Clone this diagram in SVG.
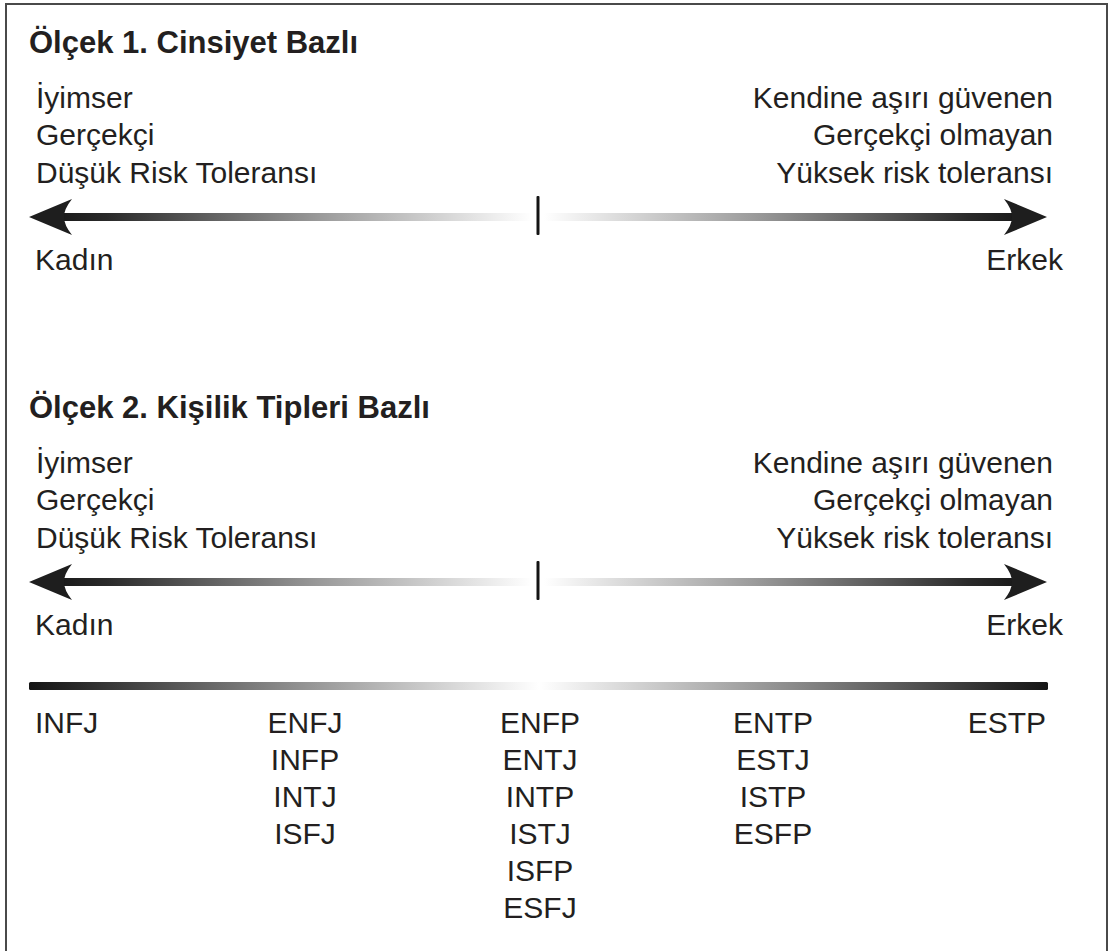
<svg xmlns="http://www.w3.org/2000/svg" width="1112" height="951" viewBox="0 0 1112 951">
  <style>
    .t { font-family: "Liberation Sans", Arial, sans-serif; font-size: 30px; fill: #231f20; }
    .h { font-family: "Liberation Sans", Arial, sans-serif; font-size: 31px; font-weight: bold; fill: #231f20; }
    .r { text-anchor: end; }
    .c { text-anchor: middle; }
    .head { fill: #1e1e1e; }
    .tick { fill: #141414; }
  </style>
  <defs>
    <linearGradient id="gLeft" gradientUnits="userSpaceOnUse" x1="60" y1="0" x2="532" y2="0">
      <stop offset="0" stop-color="#1a1a1a"/>
      <stop offset="0.1" stop-color="#2a2a2a"/>
      <stop offset="0.55" stop-color="#9a9a9a"/>
      <stop offset="1" stop-color="#ffffff"/>
    </linearGradient>
    <linearGradient id="gRight" gradientUnits="userSpaceOnUse" x1="544" y1="0" x2="1016" y2="0">
      <stop offset="0" stop-color="#ffffff"/>
      <stop offset="0.45" stop-color="#9a9a9a"/>
      <stop offset="0.9" stop-color="#2a2a2a"/>
      <stop offset="1" stop-color="#1a1a1a"/>
    </linearGradient>
    <linearGradient id="gBar" gradientUnits="userSpaceOnUse" x1="30" y1="0" x2="1048" y2="0">
      <stop offset="0" stop-color="#151515"/>
      <stop offset="0.05" stop-color="#2a2a2a"/>
      <stop offset="0.25" stop-color="#8a8a8a"/>
      <stop offset="0.5" stop-color="#ffffff"/>
      <stop offset="0.75" stop-color="#8a8a8a"/>
      <stop offset="0.95" stop-color="#2a2a2a"/>
      <stop offset="1" stop-color="#151515"/>
    </linearGradient>
    <path id="headL" class="head" d="M0,0 L43,-18 Q35,-8 35,0 Q35,8 43,18 Z"/>
    <path id="headR" class="head" d="M0,0 L-43,-18 Q-35,-8 -35,0 Q-35,8 -43,18 Z"/>
  </defs>

  <rect id="frame" x="6" y="4" width="1101" height="960" fill="#ffffff" stroke="#4a4a4a" stroke-width="2"/>

  <g id="scale1">
    <text class="h" x="29" y="53">Ölçek 1. Cinsiyet Bazlı</text>
    <g id="scale1-left">
      <text class="t" x="36" y="108">İyimser</text>
      <text class="t" x="36" y="145">Gerçekçi</text>
      <text class="t" x="36" y="183">Düşük Risk Toleransı</text>
      <text class="t" x="35" y="270">Kadın</text>
    </g>
    <g id="scale1-right">
      <text class="t r" x="1053" y="108">Kendine aşırı güvenen</text>
      <text class="t r" x="1053" y="145">Gerçekçi olmayan</text>
      <text class="t r" x="1053" y="183">Yüksek risk toleransı</text>
      <text class="t r" x="1063" y="270">Erkek</text>
    </g>
  </g>

  <g id="scale2">
    <text class="h" x="29" y="418">Ölçek 2. Kişilik Tipleri Bazlı</text>
    <g id="scale2-left">
      <text class="t" x="36" y="473">İyimser</text>
      <text class="t" x="36" y="510">Gerçekçi</text>
      <text class="t" x="36" y="548">Düşük Risk Toleransı</text>
      <text class="t" x="35" y="635">Kadın</text>
    </g>
    <g id="scale2-right">
      <text class="t r" x="1053" y="473">Kendine aşırı güvenen</text>
      <text class="t r" x="1053" y="510">Gerçekçi olmayan</text>
      <text class="t r" x="1053" y="548">Yüksek risk toleransı</text>
      <text class="t r" x="1063" y="635">Erkek</text>
    </g>
  </g>

  <g id="connectors">
    <g id="arrows1">
      <rect x="62" y="213" width="470" height="8" fill="url(#gLeft)"/>
      <rect x="544" y="213" width="470" height="8" fill="url(#gRight)"/>
      <use href="#headL" x="29" y="217"/>
      <use href="#headR" x="1047" y="217"/>
      <rect class="tick" x="536.5" y="196" width="3" height="39" rx="1"/>
    </g>
    <g id="arrows2">
      <rect x="62" y="578" width="470" height="8" fill="url(#gLeft)"/>
      <rect x="544" y="578" width="470" height="8" fill="url(#gRight)"/>
      <use href="#headL" x="29" y="582"/>
      <use href="#headR" x="1047" y="582"/>
      <rect class="tick" x="536.5" y="561" width="3" height="39" rx="1"/>
    </g>
    <rect id="typebar" x="29" y="682" width="1019" height="8" rx="1.5" fill="url(#gBar)"/>
  </g>

  <g id="col1">
    <text class="t" x="35" y="733">INFJ</text>
  </g>
  <g id="col2">
    <text class="t c" x="305" y="733">ENFJ</text>
    <text class="t c" x="305" y="770">INFP</text>
    <text class="t c" x="305" y="807">INTJ</text>
    <text class="t c" x="305" y="844">ISFJ</text>
  </g>
  <g id="col3">
    <text class="t c" x="540" y="733">ENFP</text>
    <text class="t c" x="540" y="770">ENTJ</text>
    <text class="t c" x="540" y="807">INTP</text>
    <text class="t c" x="540" y="844">ISTJ</text>
    <text class="t c" x="540" y="881">ISFP</text>
    <text class="t c" x="540" y="918">ESFJ</text>
  </g>
  <g id="col4">
    <text class="t c" x="773" y="733">ENTP</text>
    <text class="t c" x="773" y="770">ESTJ</text>
    <text class="t c" x="773" y="807">ISTP</text>
    <text class="t c" x="773" y="844">ESFP</text>
  </g>
  <g id="col5">
    <text class="t r" x="1046" y="733">ESTP</text>
  </g>
</svg>
